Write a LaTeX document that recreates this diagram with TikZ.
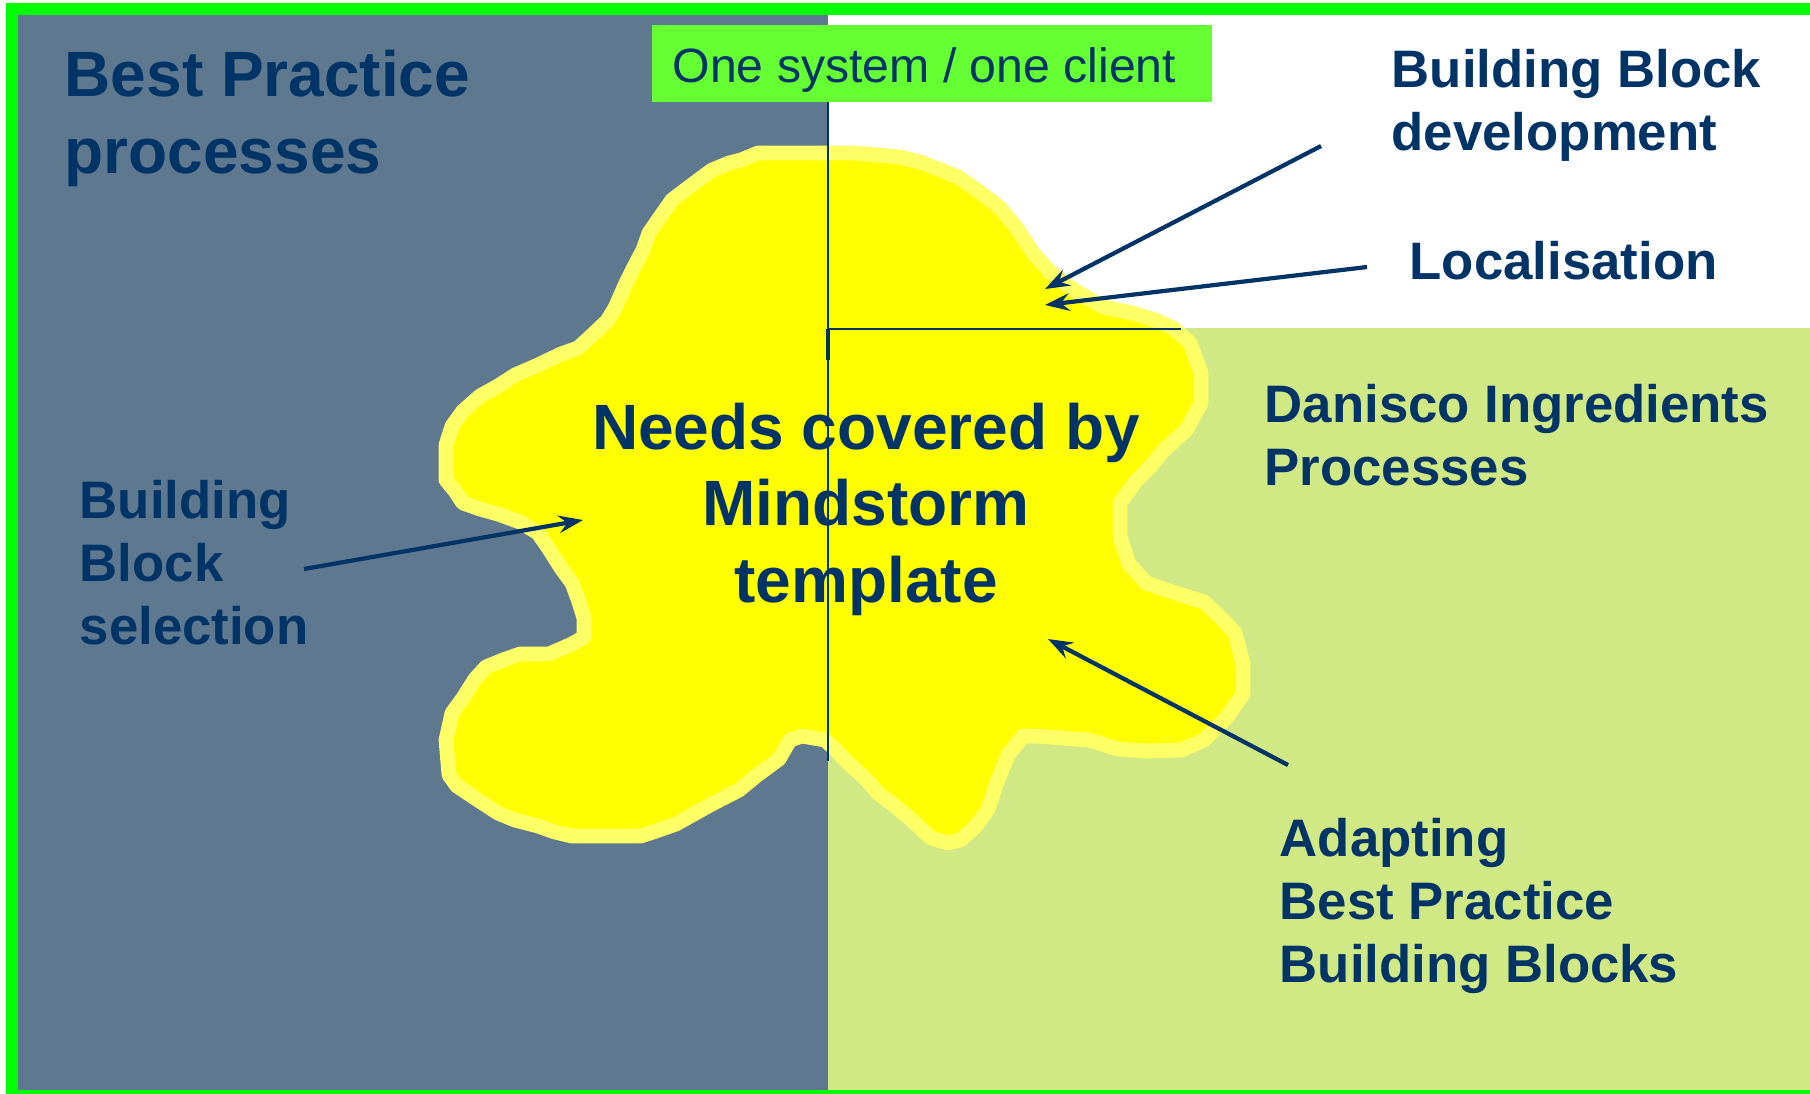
\documentclass[tikz,border=0pt]{standalone}
\usepackage{fontspec}
\setmainfont{Liberation Sans}
\usetikzlibrary{arrows.meta}
\definecolor{navy}{RGB}{0,51,102}
\definecolor{slate}{RGB}{93,120,143}
\definecolor{lime}{RGB}{209,233,132}
\definecolor{taggreen}{RGB}{102,255,51}
\definecolor{framegreen}{RGB}{0,255,0}
\definecolor{blobfill}{RGB}{255,255,0}
\definecolor{blobedge}{RGB}{255,255,102}
\begin{document}
\begin{tikzpicture}[x=0.01cm, y=-0.01cm, >={Stealth[length=7pt,width=5pt,inset=2.5pt]},
    big/.style={font=\fontsize{18.2pt}{21.7pt}\selectfont\bfseries, text=navy, inner sep=0pt, align=left, anchor=base west},
    small/.style={font=\fontsize{15pt}{17.8pt}\selectfont\bfseries, text=navy, inner sep=0pt, align=left, anchor=base west},
    pointer/.style={->, navy, line width=1.2pt}]
    \useasboundingbox (0,0) rectangle (1810,1093);
    % background areas
    \fill[white] (0,0) rectangle (1810,1093);
    \fill[framegreen] (6,3) rectangle (1830,1100);
    \fill[slate] (18,15) rectangle (828,1090);
    \fill[white] (828,15) rectangle (1810,328);
    \fill[lime] (828,328) rectangle (1810,1090);
    % the blob
    \draw[blobedge, fill=blobfill, line width=4.2pt, line join=round]
        (758,153) -- (855,153) -- (900,157) -- (923,163) -- (958,177) -- (981,193)
        -- (999,207) -- (1016,227) -- (1033,253) -- (1051,273) -- (1074,290) -- (1103,307)
        -- (1132,313) -- (1155,320) -- (1173,328) -- (1190,343) -- (1201,373) -- (1201,403)
        -- (1186,430) -- (1163,451) -- (1149,468) -- (1135,482) -- (1120,503) -- (1120,537)
        -- (1129,564) -- (1146,583) -- (1169,591) -- (1204,602) -- (1221,618) -- (1235,633)
        -- (1243,664) -- (1243,694) -- (1227,717) -- (1204,740) -- (1181,750) -- (1146,751)
        -- (1118,749) -- (1089,740) -- (1037,736) -- (1023,736) -- (1008,755) -- (997,782)
        -- (988,809) -- (974,828) -- (960,840) -- (948,843) -- (931,838) -- (914,822)
        -- (894,805) -- (879,794) -- (865,778) -- (848,763) -- (836,750) -- (825,740)
        -- (802,736) -- (790,740) -- (779,759) -- (756,776) -- (739,790) -- (710,805)
        -- (676,824) -- (653,832) -- (641,836) -- (572,836) -- (555,832) -- (538,826)
        -- (515,820) -- (498,813) -- (475,798) -- (457,786) -- (449,775) -- (446,740)
        -- (452,713) -- (463,698) -- (475,679) -- (486,667) -- (503,660) -- (520,654)
        -- (549,654) -- (572,644) -- (584,637) -- (584,618) -- (578,599) -- (572,583)
        -- (561,568) -- (549,549) -- (538,533) -- (520,522) -- (498,514) -- (480,509)
        -- (463,503) -- (455,491) -- (446,480) -- (446,445) -- (452,426) -- (463,411)
        -- (480,396) -- (498,386) -- (515,375) -- (538,365) -- (561,354) -- (578,348)
        -- (589,338) -- (607,321) -- (615,308) -- (626,283) -- (634,267) -- (643,250)
        -- (649,233) -- (660,217) -- (672,200) -- (689,187) -- (712,170) -- (729,163)
        -- (741,160) -- cycle;
    % dividers
    \coordinate (top) at (828,25);
    \coordinate (bottom) at (828,761);
    \coordinate (corner) at (828,329);
    \coordinate (edge) at (1181,329);
    \draw[navy, line width=0.6pt] (top) -- (bottom);
    \draw[navy, line width=0.6pt] (corner) -- (edge);
    \draw[navy, line width=1.1pt] (corner) -- ++(0,31);
    % tag
    \fill[taggreen] (652,25) rectangle (1212,102);
    \node[font=\fontsize{13.7pt}{16pt}\selectfont, text=navy, inner sep=0pt, anchor=base west] (client) at (672,82) {One system / one client};
    % labels (base = last line)
    \node[big] (bpp) at (64,173) {Best Practice\\processes};
    \node[big, align=center, anchor=base] (needs) at (866,602) {Needs covered by\\Mindstorm\\template};
    \node[small] (bbdev) at (1391,150) {Building Block\\development};
    \node[small] (local) at (1409,279) {Localisation};
    \node[small] (danisco) at (1264,485) {Danisco Ingredients\\Processes};
    \node[small] (bbsel) at (79,644) {Building\\Block\\selection};
    \node[small] (adapt) at (1279,982) {Adapting\\Best Practice\\Building Blocks};
    % arrows
    \coordinate (devtail) at (1321,146);
    \coordinate (devtip) at (1045,289);
    \coordinate (loctail) at (1367,267);
    \coordinate (loctip) at (1045,305);
    \coordinate (seltail) at (304,569);
    \coordinate (seltip) at (583,520);
    \coordinate (adatail) at (1288,765);
    \coordinate (adatip) at (1048,639);
    \draw[pointer] (devtail) -- (devtip);
    \draw[pointer] (loctail) -- (loctip);
    \draw[pointer] (seltail) -- (seltip);
    \draw[pointer] (adatail) -- (adatip);
\end{tikzpicture}
\end{document}
